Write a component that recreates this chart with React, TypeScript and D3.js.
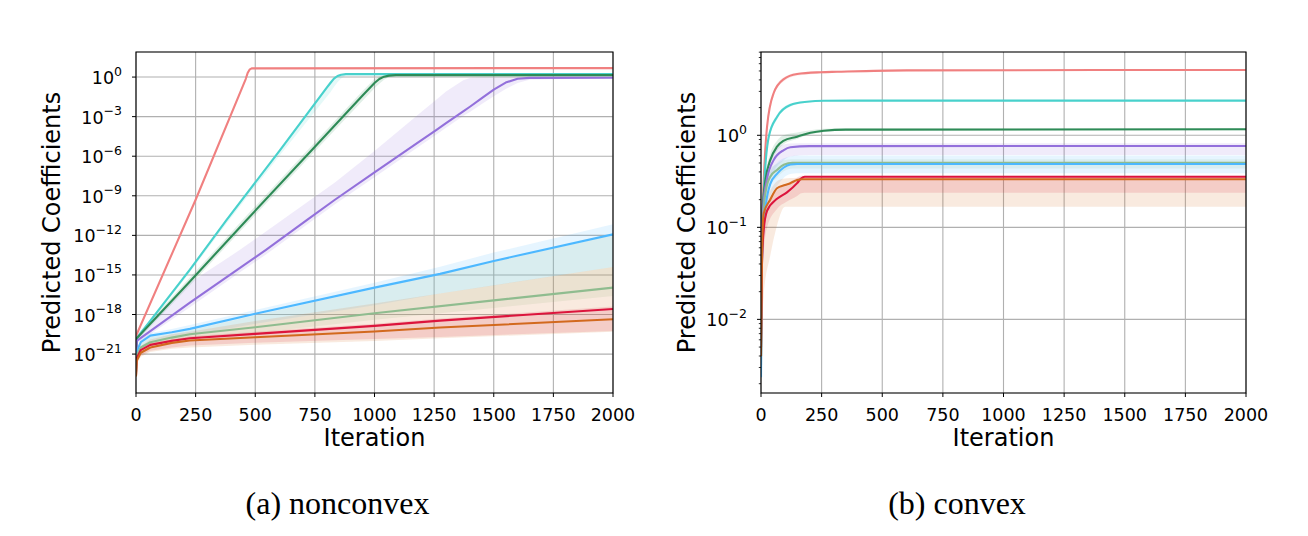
import React from 'react';
import * as d3 from 'd3';

// ---------- shared ----------
const X_TICKS = [0, 250, 500, 750, 1000, 1250, 1500, 1750, 2000];
const LEFT_Y_EXPS = [0, -3, -6, -9, -12, -15, -18, -21];
const RIGHT_Y_EXPS = [0, -1, -2];
const LEFT_Y_RANGE = [-23.95, 1.9]; // log10 limits
const RIGHT_Y_RANGE = [-2.8, 0.905];

const COLORS = ['#f08080', '#48d1cc', '#2e8b57', '#9370db', '#4db8ff', '#8fbc8f', '#dc143c', '#d2691e'];

// ---------- (a) nonconvex : values are log10 of the coefficient ----------
const L_CORAL_IT = [0, 3, 250, 460, 468, 476, 485, 2000];
const L_CORAL = [-21.2, -19.5, -9.3, -0.15, 0.3, 0.56, 0.66, 0.68];
const L_CORAL_LO = [-21.3, -19.6, -9.4, -0.25, 0.22, 0.5, 0.64, 0.66];
const L_CORAL_HI = [-21.1, -19.4, -9.2, -0.05, 0.36, 0.6, 0.68, 0.7];

const L_TURQ_IT = [0, 3, 226, 380, 604, 800, 815, 830, 845, 860, 880, 2000];
const L_TURQ = [-21.2, -19.8, -14.6, -10.83, -5.53, -0.8, -0.45, -0.12, 0.08, 0.18, 0.22, 0.23];
const L_TURQ_LO = [-21.3, -19.95, -14.8, -11.1, -5.9, -1.5, -1.15, -0.75, -0.4, -0.1, 0.12, 0.21];
const L_TURQ_HI = [-21.1, -19.7, -14.5, -10.7, -5.4, -0.65, -0.3, 0.0, 0.15, 0.22, 0.25, 0.25];

const L_GREEN_IT = [0, 3, 226, 464, 757, 950, 1000, 1020, 1040, 1060, 1090, 2000];
const L_GREEN = [-21.3, -19.8, -15.5, -10.83, -5.15, -1.4, -0.45, -0.15, 0.03, 0.11, 0.15, 0.15];
const L_GREEN_LO = [-21.4, -20.0, -15.8, -11.15, -5.5, -1.8, -0.85, -0.5, -0.2, 0.0, 0.1, 0.12];
const L_GREEN_HI = [-21.2, -19.6, -15.2, -10.5, -4.8, -1.05, -0.15, 0.05, 0.13, 0.16, 0.18, 0.18];

const L_PURP_IT = [0, 3, 226, 436, 545, 716, 834, 1000, 1200, 1260, 1300, 1372, 1400, 1450, 1500, 1550, 1600, 1650, 2000];
const L_PURP = [-21.4, -20.0, -17.1, -14.47, -13.1, -10.85, -9.3, -7.23, -4.75, -4.0, -3.5, -2.6, -2.25, -1.6, -0.95, -0.42, -0.13, -0.06, -0.05];
const L_PURP_LO = [-21.5, -20.2, -17.45, -14.8, -13.45, -11.2, -9.65, -7.6, -5.1, -4.35, -3.85, -2.95, -2.65, -2.05, -1.45, -0.9, -0.45, -0.2, -0.08];
const L_PURP_HI = [-21.2, -19.5, -15.6, -13.1, -11.7, -9.5, -8.0, -5.6, -2.6, -1.7, -1.1, -0.25, -0.08, -0.03, -0.03, -0.03, -0.03, -0.03, -0.03];

const L_BLUE_IT = [0, 3, 20, 60, 150, 226, 500, 1000, 1275, 1500, 2000];
const L_BLUE = [-22.4, -20.8, -20.1, -19.6, -19.35, -19.09, -17.95, -15.96, -14.92, -13.94, -11.92];
const L_BLUE_LO = [-22.6, -21.1, -20.5, -20.0, -19.8, -19.6, -18.7, -17.3, -16.4, -15.8, -14.4];
const L_BLUE_HI = [-22.2, -20.6, -19.9, -19.4, -19.1, -18.8, -17.65, -15.6, -14.37, -13.3, -11.16];

const L_SAGE_IT = [0, 3, 20, 60, 150, 226, 500, 1000, 1500, 2000];
const L_SAGE = [-22.5, -21.1, -20.5, -20.1, -19.75, -19.5, -18.96, -17.9, -16.93, -15.96];
const L_SAGE_LO = [-22.6, -21.3, -20.75, -20.4, -20.1, -19.9, -19.4, -18.4, -17.5, -16.6];
const L_SAGE_HI = [-22.45, -20.9, -20.2, -19.7, -19.45, -19.2, -18.05, -16.05, -14.0, -12.0];

const L_CRIM_IT = [0, 3, 20, 60, 150, 226, 500, 1000, 1275, 2000];
const L_CRIM = [-22.6, -21.3, -20.7, -20.3, -20.0, -19.8, -19.47, -18.86, -18.46, -17.58];
const L_CRIM_LO = [-22.75, -21.6, -21.1, -20.75, -20.5, -20.35, -20.15, -19.85, -19.7, -19.25];
const L_CRIM_HI = [-22.5, -21.15, -20.55, -20.15, -19.85, -19.65, -19.3, -18.7, -18.3, -17.4];

const L_CHOC_IT = [0, 3, 20, 60, 150, 226, 500, 1000, 1275, 2000];
const L_CHOC = [-22.7, -21.5, -20.9, -20.5, -20.15, -19.97, -19.72, -19.29, -18.99, -18.36];
const L_CHOC_LO = [-22.78, -21.75, -21.2, -20.85, -20.6, -20.5, -20.3, -20.0, -19.8, -19.3];
const L_CHOC_HI = [-22.5, -21.0, -20.4, -19.9, -19.5, -19.3, -18.5, -17.16, -16.4, -14.4];

// ---------- (b) convex ----------
const R_CORAL_IT = [0, 2, 5, 11, 25, 52, 94, 149, 245, 314, 600, 2000];
const R_CORAL = [-2.2, -1.3, -0.9, -0.5, 0.094, 0.457, 0.61, 0.666, 0.685, 0.69, 0.705, 0.71];
const R_CORAL_LO = [-2.25, -1.35, -0.95, -0.56, 0.054, 0.427, 0.585, 0.646, 0.67, 0.68, 0.695, 0.7];
const R_CORAL_HI = [-2.15, -1.25, -0.85, -0.45, 0.13, 0.48, 0.63, 0.68, 0.695, 0.7, 0.712, 0.716];

const R_TURQ_IT = [0, 2, 5, 11, 32, 66, 121, 190, 258, 500, 2000];
const R_TURQ = [-2.3, -1.45, -1.05, -0.65, -0.015, 0.2, 0.33, 0.365, 0.376, 0.377, 0.377];
const R_TURQ_LO = [-2.35, -1.5, -1.1, -0.72, -0.06, 0.17, 0.31, 0.355, 0.37, 0.372, 0.372];
const R_TURQ_HI = [-2.25, -1.4, -1.0, -0.6, 0.02, 0.225, 0.345, 0.372, 0.382, 0.382, 0.382];

const R_GREEN_IT = [0, 3, 11, 18, 38, 66, 92, 149, 204, 259, 350, 2000];
const R_GREEN = [-2.4, -1.0, -0.65, -0.49, -0.27, -0.124, -0.06, -0.015, 0.028, 0.05, 0.062, 0.065];
const R_GREEN_LO = [-2.45, -1.05, -0.7, -0.55, -0.32, -0.17, -0.1, -0.04, 0.01, 0.035, 0.05, 0.055];
const R_GREEN_HI = [-2.35, -0.95, -0.58, -0.42, -0.2, -0.06, 0.0, 0.03, 0.055, 0.07, 0.075, 0.075];

const R_PURP_IT = [0, 3, 10, 25, 52, 94, 121, 200, 2000];
const R_PURP = [-2.4, -1.2, -0.75, -0.47, -0.27, -0.16, -0.13, -0.118, -0.116];
const R_PURP_LO = [-2.5, -1.35, -0.9, -0.62, -0.4, -0.27, -0.23, -0.215, -0.214];
const R_PURP_HI = [-2.3, -1.05, -0.62, -0.36, -0.18, -0.1, -0.09, -0.087, -0.087];

const R_BLUE_IT = [0, 3, 10, 20, 38, 66, 94, 121, 149, 2000];
const R_BLUE = [-2.63, -1.5, -1.0, -0.75, -0.53, -0.42, -0.35, -0.318, -0.312, -0.312];
const R_BLUE_LO = [-2.7, -1.65, -1.15, -0.9, -0.68, -0.55, -0.46, -0.42, -0.413, -0.413];
const R_BLUE_HI = [-2.55, -1.35, -0.85, -0.6, -0.4, -0.3, -0.25, -0.23, -0.22, -0.22];

const R_SAGE_IT = [0, 3, 10, 20, 38, 66, 94, 130, 2000];
const R_SAGE = [-2.5, -1.3, -0.85, -0.6, -0.45, -0.377, -0.32, -0.3, -0.3];
const R_SAGE_LO = [-2.55, -1.4, -0.95, -0.7, -0.55, -0.46, -0.39, -0.36, -0.36];
const R_SAGE_HI = [-2.45, -1.2, -0.75, -0.5, -0.37, -0.31, -0.27, -0.26, -0.26];

const R_CRIM_IT = [0, 4, 11, 25, 66, 107, 149, 165, 180, 2000];
const R_CRIM = [-2.3, -1.4, -1.03, -0.82, -0.69, -0.62, -0.52, -0.47, -0.45, -0.45];
const R_CRIM_LO = [-2.6, -1.7, -1.3, -1.0, -0.8, -0.72, -0.66, -0.63, -0.624, -0.624];
const R_CRIM_HI = [-2.2, -1.3, -0.95, -0.75, -0.6, -0.53, -0.46, -0.44, -0.44, -0.44];

const R_CHOC_IT = [0, 4, 11, 38, 66, 99, 121, 149, 170, 2000];
const R_CHOC = [-2.4, -1.3, -0.85, -0.7, -0.576, -0.54, -0.52, -0.486, -0.478, -0.478];
const R_CHOC_LO = [-2.8, -2.2, -1.75, -1.31, -0.98, -0.776, -0.776, -0.776, -0.776, -0.776];
const R_CHOC_HI = [-2.3, -1.2, -0.75, -0.6, -0.5, -0.47, -0.465, -0.46, -0.46, -0.46];

type Series = { color: string; it: number[]; mean: number[]; lo: number[]; hi: number[] };

const LEFT_SERIES: Series[] = [
  { color: COLORS[0], it: L_CORAL_IT, mean: L_CORAL, lo: L_CORAL_LO, hi: L_CORAL_HI },
  { color: COLORS[1], it: L_TURQ_IT, mean: L_TURQ, lo: L_TURQ_LO, hi: L_TURQ_HI },
  { color: COLORS[2], it: L_GREEN_IT, mean: L_GREEN, lo: L_GREEN_LO, hi: L_GREEN_HI },
  { color: COLORS[3], it: L_PURP_IT, mean: L_PURP, lo: L_PURP_LO, hi: L_PURP_HI },
  { color: COLORS[4], it: L_BLUE_IT, mean: L_BLUE, lo: L_BLUE_LO, hi: L_BLUE_HI },
  { color: COLORS[5], it: L_SAGE_IT, mean: L_SAGE, lo: L_SAGE_LO, hi: L_SAGE_HI },
  { color: COLORS[6], it: L_CRIM_IT, mean: L_CRIM, lo: L_CRIM_LO, hi: L_CRIM_HI },
  { color: COLORS[7], it: L_CHOC_IT, mean: L_CHOC, lo: L_CHOC_LO, hi: L_CHOC_HI },
];

const RIGHT_SERIES: Series[] = [
  { color: COLORS[0], it: R_CORAL_IT, mean: R_CORAL, lo: R_CORAL_LO, hi: R_CORAL_HI },
  { color: COLORS[1], it: R_TURQ_IT, mean: R_TURQ, lo: R_TURQ_LO, hi: R_TURQ_HI },
  { color: COLORS[2], it: R_GREEN_IT, mean: R_GREEN, lo: R_GREEN_LO, hi: R_GREEN_HI },
  { color: COLORS[3], it: R_PURP_IT, mean: R_PURP, lo: R_PURP_LO, hi: R_PURP_HI },
  { color: COLORS[5], it: R_SAGE_IT, mean: R_SAGE, lo: R_SAGE_LO, hi: R_SAGE_HI },
  { color: COLORS[4], it: R_BLUE_IT, mean: R_BLUE, lo: R_BLUE_LO, hi: R_BLUE_HI },
  { color: COLORS[6], it: R_CRIM_IT, mean: R_CRIM, lo: R_CRIM_LO, hi: R_CRIM_HI },
  { color: COLORS[7], it: R_CHOC_IT, mean: R_CHOC, lo: R_CHOC_LO, hi: R_CHOC_HI },
];

const FONT = 'DejaVu Sans, sans-serif';

type PanelProps = {
  id: string;
  x0: number; x1: number; y0: number; y1: number;
  yRange: number[];
  majorExps: number[];
  minor: boolean;
  smooth: boolean;
  series: Series[];
  ylabelX: number;
  caption: string;
  captionX: number;
};

function Panel(p: PanelProps) {
  const { x0, x1, y0, y1 } = p;
  const x = d3.scaleLinear().domain([0, 2000]).range([x0, x1]);
  const y = d3.scaleLog().domain([Math.pow(10, p.yRange[0]), Math.pow(10, p.yRange[1])]).range([y1, y0]);
  const curve = p.smooth ? d3.curveMonotoneX : d3.curveLinear;
  const line = d3.line<[number, number]>()
    .x(d => x(d[0]))
    .y(d => y(Math.pow(10, d[1])))
    .curve(curve);
  const area = d3.area<[number, number, number]>()
    .x(d => x(d[0]))
    .y0(d => y(Math.pow(10, d[1])))
    .y1(d => y(Math.pow(10, d[2])))
    .curve(curve);

  const minorTicks: number[] = [];
  if (p.minor) {
    for (let k = Math.floor(p.yRange[0]); k <= Math.ceil(p.yRange[1]); k++) {
      for (let m = 2; m <= 9; m++) {
        const v = m * Math.pow(10, k);
        const lv = Math.log10(v);
        if (lv >= p.yRange[0] && lv <= p.yRange[1]) minorTicks.push(v);
      }
    }
  }
  const clipId = `clip-${p.id}`;
  return (
    <g>
      <defs>
        <clipPath id={clipId}>
          <rect x={x0} y={y0} width={x1 - x0} height={y1 - y0} />
        </clipPath>
      </defs>
      {/* grid */}
      <g stroke="#b0b0b0" strokeWidth={1.1}>
        {X_TICKS.map(t => (
          <line key={'gx' + t} x1={x(t)} x2={x(t)} y1={y0} y2={y1} />
        ))}
        {p.majorExps.map(e => (
          <line key={'gy' + e} x1={x0} x2={x1} y1={y(Math.pow(10, e))} y2={y(Math.pow(10, e))} />
        ))}
      </g>
      {/* bands and lines */}
      <g clipPath={`url(#${clipId})`}>
        {p.series.map((s, i) => (
          <path key={'b' + i}
            d={area(s.it.map((t, j) => [t, s.lo[j], s.hi[j]] as [number, number, number])) || ''}
            fill={s.color} fillOpacity={0.14} stroke="none" />
        ))}
        {p.series.map((s, i) => (
          <path key={'l' + i}
            d={line(s.it.map((t, j) => [t, s.mean[j]] as [number, number])) || ''}
            fill="none" stroke={s.color} strokeWidth={2.1} strokeLinejoin="round" />
        ))}
      </g>
      {/* spines */}
      <rect x={x0} y={y0} width={x1 - x0} height={y1 - y0} fill="none" stroke="#000" strokeWidth={1.1} />
      {/* x ticks */}
      <g fontFamily={FONT} fontSize={17.5} fill="#000">
        {X_TICKS.map(t => (
          <g key={'xt' + t}>
            <line x1={x(t)} x2={x(t)} y1={y1} y2={y1 + 4} stroke="#000" strokeWidth={1} />
            <text x={x(t)} y={y1 + 28} textAnchor="middle">{t}</text>
          </g>
        ))}
      </g>
      {/* y ticks */}
      <g fontFamily={FONT} fill="#000">
        {p.majorExps.map(e => {
          const ty = y(Math.pow(10, e));
          return (
            <g key={'yt' + e}>
              <line x1={x0 - 4} x2={x0} y1={ty} y2={ty} stroke="#000" strokeWidth={1} />
              <text x={x0 - 14} y={ty + 7} textAnchor="end">
                <tspan fontSize={17.5}>10</tspan>
                <tspan fontSize={12.5} dy={-8.5}>{e === 0 ? '0' : '\u2212' + Math.abs(e)}</tspan>
              </text>
            </g>
          );
        })}
        {minorTicks.map((v, i) => (
          <line key={'mt' + i} x1={x0 - 2.2} x2={x0} y1={y(v)} y2={y(v)} stroke="#000" strokeWidth={0.8} />
        ))}
      </g>
      {/* axis labels */}
      <text x={(x0 + x1) / 2} y={446} textAnchor="middle" fontFamily={FONT} fontSize={24} fill="#000">Iteration</text>
      <text transform={`translate(${p.ylabelX},${(y0 + y1) / 2}) rotate(-90)`} textAnchor="middle"
        fontFamily={FONT} fontSize={24} fill="#000">Predicted Coefficients</text>
      {/* caption */}
      <text x={p.captionX} y={514} textAnchor="middle" fontFamily="Liberation Serif, Times New Roman, serif"
        fontSize={32} fill="#000">{p.caption}</text>
    </g>
  );
}

export default function App() {
  return (
    <svg width={1308} height={536} viewBox="0 0 1308 536"
      style={{ position: 'absolute', left: 0, top: 0, background: '#fff' }}>
      <rect x={0} y={0} width={1308} height={536} fill="#fff" />
      <Panel id="a" x0={136} x1={613} y0={52} y1={393} yRange={LEFT_Y_RANGE} majorExps={LEFT_Y_EXPS}
        minor={false} smooth={false} series={LEFT_SERIES} ylabelX={60} caption="(a) nonconvex" captionX={337.5} />
      <Panel id="b" x0={761} x1={1246} y0={52} y1={393} yRange={RIGHT_Y_RANGE} majorExps={RIGHT_Y_EXPS}
        minor={true} smooth={true} series={RIGHT_SERIES} ylabelX={695} caption="(b) convex" captionX={957} />
    </svg>
  );
}
